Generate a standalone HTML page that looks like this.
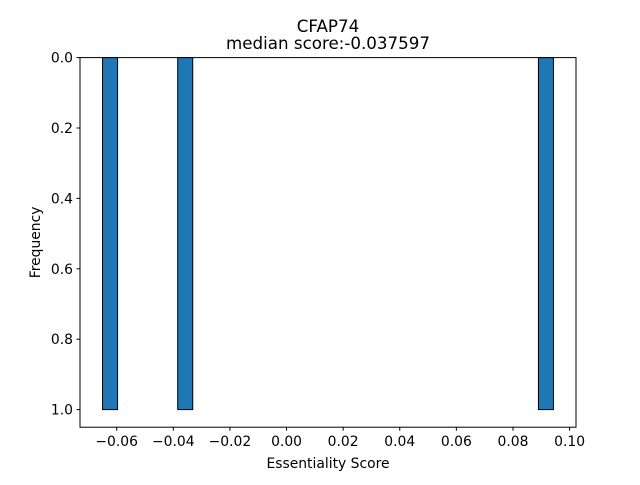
<!DOCTYPE html>
<html><head><meta charset="utf-8"><style>
body{margin:0;background:#fff;}
svg text{font-family:"DejaVu Sans","Liberation Sans",sans-serif;fill:#000;}
</style></head><body>
<svg id="chart" width="640" height="480" xmlns="http://www.w3.org/2000/svg">
<rect width="640" height="480" fill="#fff"/>
<text x="328" y="32" font-size="16.7" text-anchor="middle">CFAP74</text>
<text x="328" y="49" font-size="16.7" text-anchor="middle">median score:-0.037597</text>
<g id="bars"></g>
<g id="xt"></g><g id="yt"></g>
<rect x="80" y="57.6" width="496" height="369.6" fill="none" stroke="#000" stroke-width="1"/>
<text x="328" y="468" font-size="13.9" text-anchor="middle">Essentiality Score</text>
<text x="40" y="242.4" font-size="13.9" text-anchor="middle" transform="rotate(-90 40 242.4)">Frequency</text>
</svg>
<script>
const scores=[-0.065,-0.037597,0.0943];
const xTicks=[-0.06,-0.04,-0.02,0.00,0.02,0.04,0.06,0.08,0.10];
const xTickLabels=["−0.06","−0.04","−0.02","0.00","0.02","0.04","0.06","0.08","0.10"];
const yTicks=[0,0.2,0.4,0.6,0.8,1.0];
const yTickLabels=["0.0","0.2","0.4","0.6","0.8","1.0"];
const nBins=30;
const NS="http://www.w3.org/2000/svg";
const mn=Math.min(...scores),mx=Math.max(...scores),bw=(mx-mn)/nBins;
const xmin=mn-0.05*(mx-mn),xmax=mx+0.05*(mx-mn);
const X=v=>80+(v-xmin)/(xmax-xmin)*496;
const Y=v=>57.6+v/1.05*369.6;
const counts=new Array(nBins).fill(0);
scores.forEach(s=>{let i=Math.floor((s-mn)/bw);if(i>=nBins)i=nBins-1;counts[i]++;});
const bars=document.getElementById('bars');
counts.forEach((c,i)=>{if(!c)return;
const r=document.createElementNS(NS,'rect');
r.setAttribute('x',X(mn+i*bw));r.setAttribute('width',X(mn+(i+1)*bw)-X(mn+i*bw));
r.setAttribute('y',Y(0));r.setAttribute('height',Y(c)-Y(0));
r.setAttribute('fill','#1f77b4');r.setAttribute('stroke','#000');r.setAttribute('stroke-width','1');


bars.appendChild(r);});
const xt=document.getElementById('xt');
xTicks.forEach((t,i)=>{const x=X(t);
const l=document.createElementNS(NS,'line');l.setAttribute('x1',x);l.setAttribute('x2',x);l.setAttribute('y1',427.2);l.setAttribute('y2',430.7);l.setAttribute('stroke','#000');


xt.appendChild(l);
const tx=document.createElementNS(NS,'text');tx.setAttribute('x',x);tx.setAttribute('y',446);tx.setAttribute('font-size','13.9');tx.setAttribute('text-anchor','middle');tx.textContent=xTickLabels[i];


xt.appendChild(tx);});
const yt=document.getElementById('yt');
yTicks.forEach((t,i)=>{const y=Y(t);
const l=document.createElementNS(NS,'line');l.setAttribute('x1',76.5);l.setAttribute('x2',80);l.setAttribute('y1',y);l.setAttribute('y2',y);l.setAttribute('stroke','#000');


yt.appendChild(l);
const tx=document.createElementNS(NS,'text');tx.setAttribute('x',73);tx.setAttribute('y',y+5);tx.setAttribute('font-size','13.9');tx.setAttribute('text-anchor','end');tx.textContent=yTickLabels[i];


yt.appendChild(tx);});
</script>
</body></html>
